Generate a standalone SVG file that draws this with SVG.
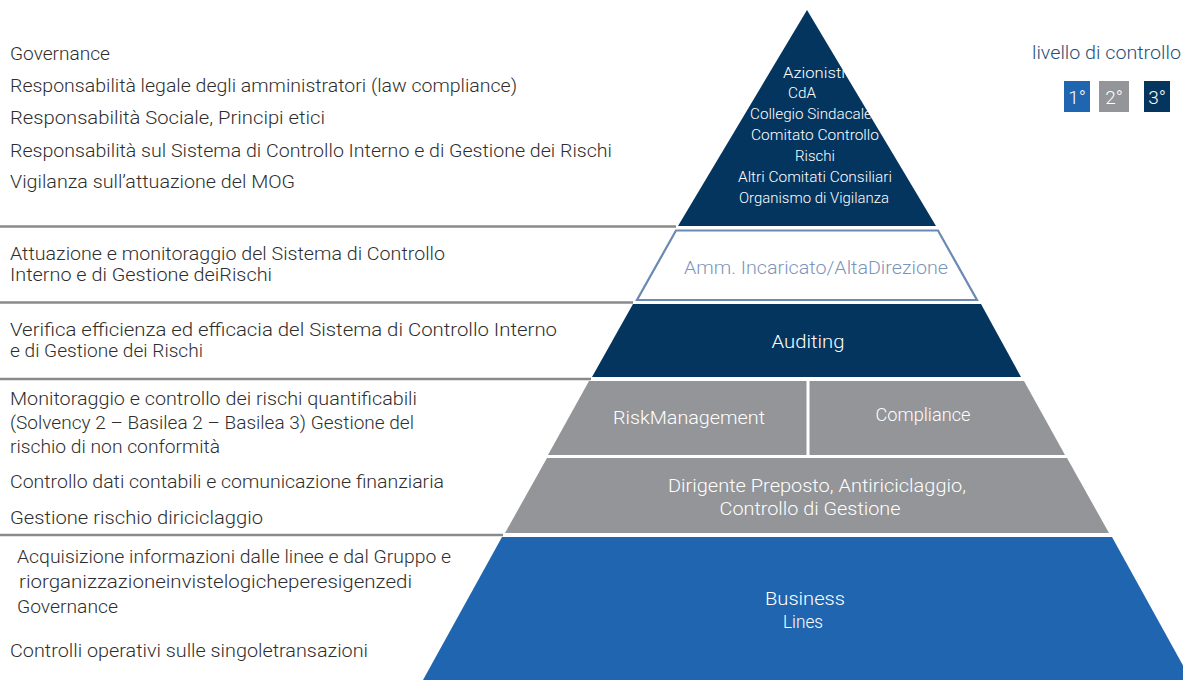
<svg xmlns="http://www.w3.org/2000/svg" width="1183" height="680" viewBox="0 0 1183 680">
  <style>
    .lt { font-family: Roboto, "Liberation Sans", sans-serif; font-weight: 300; font-size: 17.5px; fill: #2e2e2e; }
    .wt { font-family: Roboto, "Liberation Sans", sans-serif; font-weight: 300; fill: #ffffff; text-anchor: middle; }
    .s15 { font-size: 15px; }
    .s18 { font-size: 18px; }
    .rule { stroke: #8a8a8a; stroke-width: 2.5; fill: none; }
    .navy { fill: #04355f; }
    .grey { fill: #939598; }
    .blue { fill: #1f65b0; }
  </style>

  <!-- Separators between the description rows -->
  <g id="connectors">
    <line class="rule" x1="0" y1="226.5" x2="676" y2="226.5"/>
    <line class="rule" x1="0" y1="302.5" x2="633" y2="302.5"/>
    <line class="rule" x1="0" y1="379" x2="591" y2="379"/>
    <line class="rule" x1="0" y1="535" x2="503" y2="535"/>
  </g>

  <!-- Pyramid layers -->
  <g id="layer-governance">
    <polygon class="navy" points="807,10 936,226 678,226"/>
    <text class="wt s15" x="814" y="78" textLength="62" lengthAdjust="spacingAndGlyphs">Azionisti</text>
    <text class="wt s15" x="802" y="98" textLength="28" lengthAdjust="spacingAndGlyphs">CdA</text>
    <text class="wt s15" x="811" y="119" textLength="122" lengthAdjust="spacingAndGlyphs">Collegio Sindacale</text>
    <text class="wt s15" x="815" y="140" textLength="128" lengthAdjust="spacingAndGlyphs">Comitato Controllo</text>
    <text class="wt s15" x="815" y="161" textLength="40" lengthAdjust="spacingAndGlyphs">Rischi</text>
    <text class="wt s15" x="815" y="182" textLength="154" lengthAdjust="spacingAndGlyphs">Altri Comitati Consiliari</text>
    <text class="wt s15" x="814" y="203" textLength="150" lengthAdjust="spacingAndGlyphs">Organismo di Vigilanza</text>
  </g>

  <g id="layer-direzione">
    <polygon points="676,230.5 938,230.5 977,300 637,300" fill="#ffffff" stroke="#6a89b3" stroke-width="2.2"/>
    <text class="s18" x="816" y="274" text-anchor="middle" fill="#7b95b8" font-weight="300" font-family="Roboto, 'Liberation Sans', sans-serif" textLength="264" lengthAdjust="spacingAndGlyphs">Amm. Incaricato/AltaDirezione</text>
  </g>

  <g id="layer-auditing">
    <polygon class="navy" points="633,304 981,304 1021,377 592,377"/>
    <text class="wt s18" x="808" y="348" textLength="73" lengthAdjust="spacingAndGlyphs">Auditing</text>
  </g>

  <g id="layer-risk">
    <polygon class="grey" points="589,381 1024,381 1065,455 548,455"/>
    <line x1="808" y1="379" x2="808" y2="459" stroke="#ffffff" stroke-width="3"/>
    <text class="wt s18" x="689" y="424" textLength="152" lengthAdjust="spacingAndGlyphs">RiskManagement</text>
    <text class="wt s18" x="923" y="421" textLength="95" lengthAdjust="spacingAndGlyphs">Compliance</text>
  </g>

  <g id="layer-dirigente">
    <polygon class="grey" points="547,458 1067,458 1109,533 505,533"/>
    <text class="wt s18" x="817" y="492" textLength="298" lengthAdjust="spacingAndGlyphs">Dirigente Preposto, Antiriciclaggio,</text>
    <text class="wt s18" x="810" y="515" textLength="181" lengthAdjust="spacingAndGlyphs">Controllo di Gestione</text>
  </g>

  <g id="layer-business">
    <polygon class="blue" points="502,537 1112,537 1191,680 423,680"/>
    <text class="wt s18" x="805" y="605" textLength="80" lengthAdjust="spacingAndGlyphs">Business</text>
    <text class="wt s18" x="803" y="628" textLength="40" lengthAdjust="spacingAndGlyphs">Lines</text>
  </g>

  <!-- Legend -->
  <g id="legend">
    <text x="1032" y="59" font-family="Roboto, 'Liberation Sans', sans-serif" font-weight="300" font-size="17.5" fill="#1f4e79" textLength="149" lengthAdjust="spacingAndGlyphs">livello di controllo</text>
    <rect class="blue" x="1064" y="81" width="26" height="31"/>
    <rect class="grey" x="1099" y="81" width="30" height="31"/>
    <rect class="navy" x="1144" y="81" width="26" height="31"/>
    <text class="wt" x="1077" y="104" font-size="19">1°</text>
    <text class="wt" x="1114" y="104" font-size="19">2°</text>
    <text class="wt" x="1157" y="104" font-size="19">3°</text>
  </g>

  <!-- Descriptions per level -->
  <g id="desc-governance">
    <text class="lt" x="10" y="60" textLength="100" lengthAdjust="spacingAndGlyphs">Governance</text>
    <text class="lt" x="10" y="92" textLength="507" lengthAdjust="spacingAndGlyphs">Responsabilità legale degli amministratori (law compliance)</text>
    <text class="lt" x="10" y="124" textLength="315" lengthAdjust="spacingAndGlyphs">Responsabilità Sociale, Principi etici</text>
    <text class="lt" x="10" y="157" textLength="602" lengthAdjust="spacingAndGlyphs">Responsabilità sul Sistema di Controllo Interno e di Gestione dei Rischi</text>
    <text class="lt" x="10" y="188" textLength="285" lengthAdjust="spacingAndGlyphs">Vigilanza sull’attuazione del MOG</text>
  </g>

  <g id="desc-direzione">
    <text class="lt" x="10" y="260" textLength="435" lengthAdjust="spacingAndGlyphs">Attuazione e monitoraggio del Sistema di Controllo</text>
    <text class="lt" x="10" y="281" textLength="262" lengthAdjust="spacingAndGlyphs">Interno e di Gestione deiRischi</text>
  </g>

  <g id="desc-auditing">
    <text class="lt" x="10" y="336" textLength="547" lengthAdjust="spacingAndGlyphs">Verifica efficienza ed efficacia del Sistema di Controllo Interno</text>
    <text class="lt" x="10" y="357" textLength="193" lengthAdjust="spacingAndGlyphs">e di Gestione dei Rischi</text>
  </g>

  <g id="desc-secondo-livello">
    <text class="lt" x="10" y="405" textLength="407" lengthAdjust="spacingAndGlyphs">Monitoraggio e controllo dei rischi quantificabili</text>
    <text class="lt" x="10" y="429" textLength="404" lengthAdjust="spacingAndGlyphs">(Solvency 2 – Basilea 2 – Basilea 3) Gestione del</text>
    <text class="lt" x="10" y="453" textLength="210" lengthAdjust="spacingAndGlyphs">rischio di non conformità</text>
    <text class="lt" x="10" y="488" textLength="434" lengthAdjust="spacingAndGlyphs">Controllo dati contabili e comunicazione finanziaria</text>
    <text class="lt" x="10" y="524" textLength="253" lengthAdjust="spacingAndGlyphs">Gestione rischio diriciclaggio</text>
  </g>

  <g id="desc-primo-livello">
    <text class="lt" x="17" y="563" textLength="434" lengthAdjust="spacingAndGlyphs">Acquisizione informazioni dalle linee e dal Gruppo e</text>
    <text class="lt" x="19" y="588" textLength="393" lengthAdjust="spacingAndGlyphs">riorganizzazioneinvistelogicheperesigenzedi</text>
    <text class="lt" x="17" y="613" textLength="101" lengthAdjust="spacingAndGlyphs">Governance</text>
    <text class="lt" x="10" y="657" textLength="358" lengthAdjust="spacingAndGlyphs">Controlli operativi sulle singoletransazioni</text>
  </g>
</svg>
